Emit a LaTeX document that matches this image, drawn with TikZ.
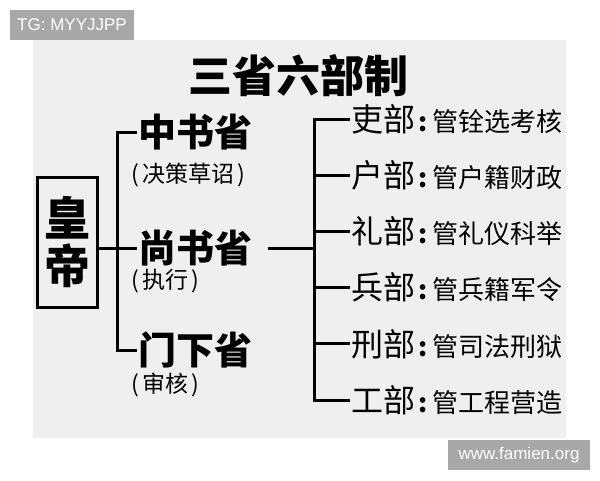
\documentclass[tikz,border=0pt]{standalone}
\usepackage{fontspec}
\newfontfamily\cjk{Noto Sans CJK SC}
\newfontfamily\tagfont{Liberation Sans}
\definecolor{panel}{RGB}{239,239,239}
\definecolor{tag}{RGB}{168,168,168}

\begin{document}
\begin{tikzpicture}[x=1pt, y=-1pt, line width=3pt]
      \useasboundingbox (0,0) rectangle (600,480);
      \fill [panel] (33,40) rectangle (566,438);

      \tikzstyle{every node}=[inner sep=0pt, font=\cjk]
      \tikzstyle{tagbox}=[fill=tag, text=white, minimum height=30pt,
        font=\tagfont\fontsize{17}{17}\selectfont]
      \tikzstyle{sheng}=[anchor=west, font=\cjk\bfseries\fontsize{38}{38}\selectfont]
      \tikzstyle{note}=[anchor=west, font=\cjk\fontsize{23}{23}\selectfont]

      \path (72,25) node [tagbox, minimum width=124pt] (tg) {TG: MYYJJPP};
      \path (519,455) node [tagbox, minimum width=142pt] (site) {www.famien.org};

      \path (298,76) node [font=\cjk\bfseries\fontsize{44}{44}\selectfont] (title) {三省六部制};

      \path (67,242) node [draw, minimum width=60pt, minimum height=130pt, align=center,
        font=\cjk\bfseries\fontsize{46}{48}\selectfont] (emperor) {皇\\帝};

      \foreach \s/\name/\note/\y/\ny in {zhong/中书省/决策草诏/132/175,
          shang/尚书省/执行/248/281, men/门下省/审核/350/385}
      {
        \path (137,\y) node [sheng] (\s) {\name};
        \path (130,\ny) node [note] (\s note) {(\hspace{3pt}\note\hspace{3pt})};
      }

      \foreach \i/\dept/\duty in {1/吏部/管铨选考核, 2/户部/管户籍财政, 3/礼部/管礼仪科举,
          4/兵部/管兵籍军令, 5/刑部/管司法刑狱, 6/工部/管工程营造}
      {
        \path (350,{119+56.2*(\i-1)}) node [anchor=west] (d\i)
          {\fontsize{32}{32}\selectfont\dept\hspace{3pt}{\bfseries\fontsize{26}{26}\selectfont:}\hspace{5pt}\fontsize{26}{26}\selectfont\duty};
      }

      \coordinate (lbar) at (117,248);
      \coordinate (rbar) at (314,248);

      \draw (lbar -| emperor.east) -- (lbar) -- (shang.west);
      \draw (zhong.west) -- (zhong.west -| lbar) -- (men.west -| lbar) -- (men.west);

      \draw [shorten <=14pt] (shang.east) -- (rbar);
      \draw (d1.west) -- (d1.west -| rbar) -- (d6.west -| rbar) -- (d6.west);
      \foreach \i in {2, 3, 4, 5}
      {
        \draw (d\i.west -| rbar) -- (d\i.west);
      }
    \end{tikzpicture}
\end{document}
